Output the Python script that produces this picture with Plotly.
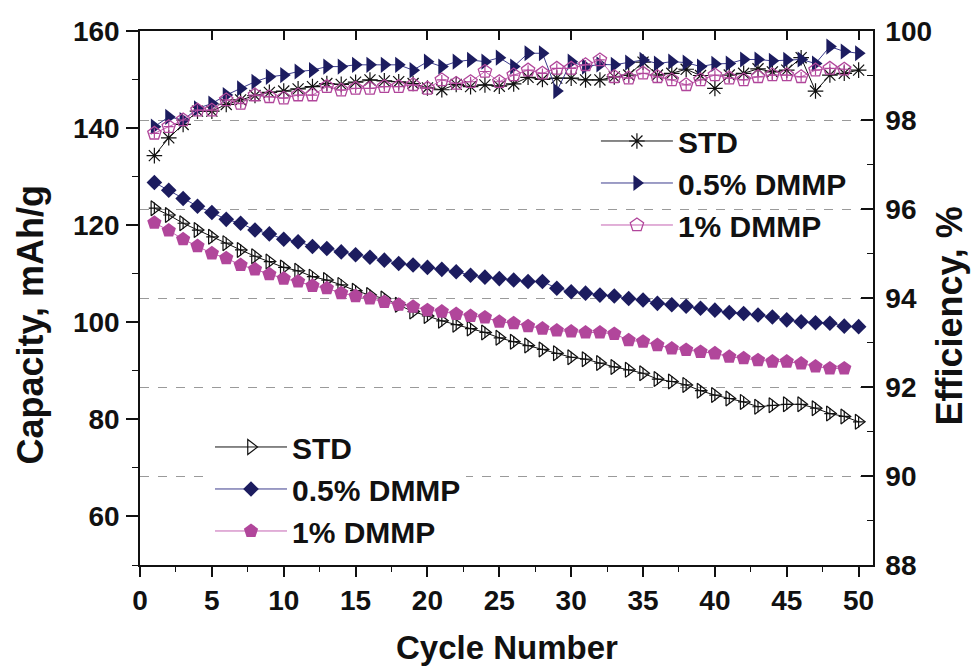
import plotly.graph_objects as go

# ---------------- data ----------------
cycles = list(range(1, 51))
cycles_1pct = list(range(1, 50))

cap_std = [123.5, 122.1, 120.4, 119.0, 117.6, 116.3, 114.9, 113.6, 112.5, 111.3,
           110.6, 109.4, 108.7, 107.7, 106.5, 105.6, 104.9, 103.6, 102.2, 101.3,
           100.3, 99.5, 98.7, 97.9, 96.8, 96.0, 95.2, 94.4, 93.6, 92.8,
           92.4, 91.6, 90.8, 90.2, 89.5, 88.3, 87.8, 87.1, 85.9, 85.0,
           84.3, 83.6, 82.6, 82.9, 83.1, 83.1, 82.3, 81.2, 80.6, 79.5]
cap_05 = [128.8, 127.2, 125.5, 123.9, 122.6, 121.2, 120.4, 119.0, 118.2, 117.1,
          116.6, 115.6, 115.2, 114.5, 113.9, 113.4, 112.8, 112.1, 111.8, 111.3,
          110.9, 110.4, 109.7, 109.3, 109.0, 108.7, 108.4, 108.4, 107.0, 106.3,
          106.0, 105.6, 105.4, 104.9, 104.6, 103.9, 103.6, 103.3, 102.9, 102.5,
          102.0, 101.8, 101.5, 101.1, 100.5, 100.1, 99.9, 99.8, 99.2, 99.1]
cap_1 = [120.5, 118.9, 117.1, 115.7, 114.2, 113.2, 111.8, 110.9, 109.9, 109.0,
         108.4, 107.5, 107.0, 106.0, 105.4, 104.9, 104.2, 103.6, 103.2, 102.5,
         102.2, 101.7, 101.3, 101.0, 100.1, 99.8, 99.2, 98.7, 98.3, 98.1,
         97.9, 97.9, 97.6, 96.3, 96.0, 95.3, 94.6, 94.3, 93.9, 93.6,
         92.9, 92.6, 92.2, 91.9, 91.9, 91.5, 90.9, 90.5, 90.5]

eff_std = [97.2, 97.6, 97.9, 98.2, 98.2, 98.35, 98.45, 98.55, 98.62, 98.65,
           98.7, 98.75, 98.82, 98.8, 98.85, 98.9, 98.88, 98.86, 98.82, 98.72,
           98.68, 98.8, 98.75, 98.79, 98.76, 98.81, 98.96, 98.91, 98.94, 98.94,
           98.9, 98.9, 98.97, 99.01, 99.3, 99.01, 99.05, 99.14, 99.0, 98.71,
           99.01, 99.05, 99.15, 99.08, 99.12, 99.4, 98.65, 99.01, 99.05, 99.12]
eff_05 = [97.85, 98.07, 98.0, 98.26, 98.37, 98.56, 98.71, 98.86, 98.97, 99.01,
          99.09, 99.12, 99.2, 99.2, 99.24, 99.24, 99.24, 99.24, 99.12, 99.31,
          99.2, 99.31, 99.35, 99.31, 99.4, 99.2, 99.5, 99.5, 98.65, 99.31,
          99.2, 99.25, 99.24, 99.29, 99.35, 99.27, 99.31, 99.29, 99.2, 99.26,
          99.27, 99.36, 99.36, 99.33, 99.35, 99.36, 99.27, 99.65, 99.54, 99.5]
eff_1 = [97.7, 97.85, 98.0, 98.22, 98.22, 98.45, 98.37, 98.56, 98.52, 98.49,
         98.56, 98.56, 98.75, 98.67, 98.71, 98.71, 98.75, 98.75, 98.79, 98.71,
         98.9, 98.82, 98.86, 99.09, 98.86, 99.01, 99.12, 99.05, 99.16, 99.16,
         99.24, 99.35, 98.97, 98.94, 99.05, 98.97, 98.9, 98.79, 98.9, 99.01,
         98.94, 98.9, 98.97, 99.01, 99.01, 98.97, 99.12, 99.16, 99.14]

series_names = ["STD", "0.5% DMMP", "1% DMMP"]

x_ticks = list(range(0, 51, 5))
x_top_ticks = list(range(5, 51, 5))
cap_ticks = [60, 80, 100, 120, 140, 160]
eff_ticks = [88, 90, 92, 94, 96, 98, 100]

# ---------------- styles ----------------
NAVY = "#1c1c5f"
NAVY_LINE = "#3c3c8c"
MAGENTA = "#b1469b"
MAGENTA_LINE = "#c462b2"
BLACK = "#111111"
FONT = "Liberation Sans, Arial, sans-serif"

fig = go.Figure()

# --- capacity traces (left axis, legend 1) ---
fig.add_trace(go.Scatter(
    x=cycles, y=cap_std, name=series_names[0], mode="lines+markers",
    line=dict(color=BLACK, width=1),
    marker=dict(symbol="triangle-right-open", size=13, color=BLACK, line=dict(width=1.2, color=BLACK)),
    legend="legend", legendgroup="cstd"))
fig.add_trace(go.Scatter(
    x=cycles, y=cap_std, mode="markers", showlegend=False, hoverinfo="skip",
    marker=dict(symbol="cross-thin-open", size=8, color=BLACK, line=dict(width=1.2, color=BLACK)),
    legendgroup="cstd"))
fig.add_trace(go.Scatter(
    x=cycles, y=cap_05, name=series_names[1], mode="lines+markers",
    line=dict(color=NAVY_LINE, width=1),
    marker=dict(symbol="diamond", size=12, color=NAVY, line=dict(width=0)),
    legend="legend"))
fig.add_trace(go.Scatter(
    x=cycles_1pct, y=cap_1, name=series_names[2], mode="lines+markers",
    line=dict(color=MAGENTA_LINE, width=1),
    marker=dict(symbol="pentagon", size=15, color=MAGENTA, line=dict(width=0)),
    legend="legend"))

# --- efficiency traces (right axis, legend 2) ---
fig.add_trace(go.Scatter(
    x=cycles, y=eff_std, name=series_names[0], mode="lines+markers", yaxis="y2",
    line=dict(color=BLACK, width=1),
    marker=dict(symbol="asterisk-open", size=13, color=BLACK, line=dict(width=1.2, color=BLACK)),
    legend="legend2"))
fig.add_trace(go.Scatter(
    x=cycles, y=eff_05, name=series_names[1], mode="lines+markers", yaxis="y2",
    line=dict(color=NAVY_LINE, width=1),
    marker=dict(symbol="triangle-right", size=14, color=NAVY, line=dict(width=0)),
    legend="legend2"))
fig.add_trace(go.Scatter(
    x=cycles_1pct, y=eff_1, name=series_names[2], mode="lines+markers", yaxis="y2",
    line=dict(color=MAGENTA_LINE, width=1),
    marker=dict(symbol="pentagon-open", size=14, color=MAGENTA, line=dict(width=1.3, color=MAGENTA)),
    legend="legend2", legendgroup="e1"))
fig.add_trace(go.Scatter(
    x=cycles_1pct, y=eff_1, mode="markers", yaxis="y2", showlegend=False, hoverinfo="skip",
    marker=dict(symbol="cross-thin-open", size=7, color=MAGENTA, line=dict(width=1.2, color=MAGENTA)),
    legendgroup="e1"))

# dummy trace so the top mirror axis is drawn
fig.add_trace(go.Scatter(x=[None], y=[None], xaxis="x2", yaxis="y", showlegend=False, hoverinfo="skip"))

tick_font = dict(family=FONT, size=28, color="#111111", weight="bold")

fig.update_layout(
    width=974, height=669,
    margin=dict(l=140, r=101, t=31, b=104),
    paper_bgcolor="white", plot_bgcolor="white",
    showlegend=True,
    xaxis=dict(range=[0, 51], tickvals=x_ticks, ticks="outside", ticklen=10, tickwidth=1.5,
               tickcolor="#111", showline=True, linecolor="#111", linewidth=1.5,
               showgrid=False, zeroline=False, tickfont=tick_font, ticklabelstandoff=0,
               minor=dict(tickvals=[v + 2.5 for v in x_ticks[:-1]], ticks="outside", ticklen=5,
                          tickwidth=1, tickcolor="#111"),
               automargin=False),
    xaxis2=dict(range=[0, 51], overlaying="x", side="top", anchor="y", tickvals=x_top_ticks,
                ticks="inside", ticklen=9, tickwidth=1.5, tickcolor="#111",
                showline=True, linecolor="#111", linewidth=1.5, showticklabels=False,
                showgrid=False, zeroline=False, automargin=False),
    yaxis=dict(range=[50, 160], tickvals=cap_ticks, ticks="outside", ticklen=12, tickwidth=1.5,
               tickcolor="#111", showline=True, linecolor="#111", linewidth=1.5,
               showgrid=False, zeroline=False, tickfont=tick_font, ticklabelstandoff=1,
               minor=dict(tickvals=[50, 70, 90, 110, 130, 150], ticks="outside", ticklen=6,
                          tickwidth=1, tickcolor="#111"),
               automargin=False),
    yaxis2=dict(range=[88, 100], tickvals=eff_ticks, overlaying="y", side="right", anchor="x",
                ticks="inside", ticklen=12, tickwidth=1.5, tickcolor="#111",
                showline=True, linecolor="#111", linewidth=1.5,
                showgrid=True, gridcolor="#9a9a9a", gridwidth=1, griddash="dash",
                zeroline=False, tickfont=tick_font, ticklabelstandoff=5,
                minor=dict(tickvals=[89, 91, 93, 95, 97, 99], ticks="inside", ticklen=6,
                           tickwidth=1, tickcolor="#111"),
                automargin=False),
    legend=dict(x=0.0955, y=0.2697, xanchor="left", yanchor="top",
                bgcolor="white", borderwidth=0, itemwidth=72,
                font=dict(family=FONT, size=30, color="#111", weight="bold"),
                tracegroupgap=0),
    legend2=dict(x=0.622, y=0.8427, xanchor="left", yanchor="top",
                 bgcolor="rgba(0,0,0,0)", borderwidth=0, itemwidth=72,
                 font=dict(family=FONT, size=30, color="#111", weight="bold"),
                 tracegroupgap=0),
    annotations=[
        dict(text="Capacity, mAh/g", xref="paper", yref="paper", x=-0.149, y=0.45,
             textangle=-90, showarrow=False, xanchor="center", yanchor="middle",
             font=dict(family=FONT, size=36, color="#111", weight="bold")),
        dict(text="Efficiency, %", xref="paper", yref="paper", x=1.105, y=0.467,
             textangle=-90, showarrow=False, xanchor="center", yanchor="middle",
             font=dict(family=FONT, size=36, color="#111", weight="bold")),
        dict(text="Cycle Number", xref="paper", yref="paper", x=0.5, y=-0.1536,
             showarrow=False, xanchor="center", yanchor="middle",
             font=dict(family=FONT, size=33, color="#111", weight="bold")),
    ],
)

fig.write_html("out.html")
